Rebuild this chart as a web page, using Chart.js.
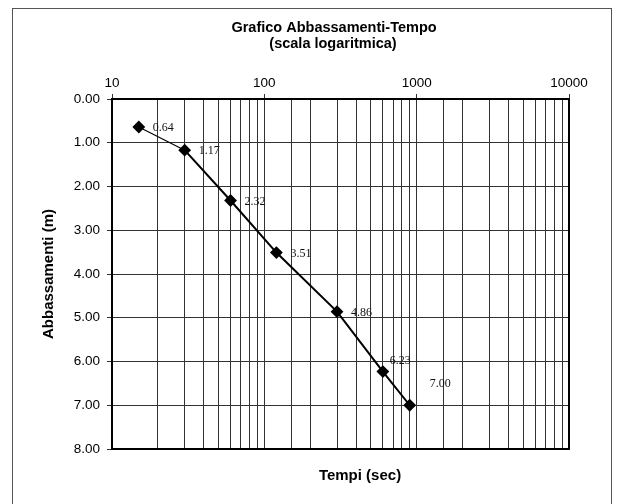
<!DOCTYPE html>
<html>
<head>
<meta charset="utf-8">
<title>Grafico Abbassamenti-Tempo</title>
<script src="https://cdn.jsdelivr.net/npm/chart.js@4/dist/chart.umd.min.js"></script>
<style>
  html, body { margin: 0; padding: 0; background: #fff; }
  #wrap { position: relative; width: 617px; height: 504px; }
</style>
</head>
<body>
<div id="wrap"><canvas id="c" width="617" height="504"></canvas></div>
<script>
// Pumping test readings: elapsed time (s) and drawdown (m)
const times = [15, 30, 60, 120, 300, 600, 900];
const drawdowns = [0.64, 1.17, 2.32, 3.51, 4.86, 6.23, 7.00];

// Axis ticks
const timeTickLabels = [10, 100, 1000, 10000];
const drawdownTicks = [0, 1, 2, 3, 4, 5, 6, 7, 8];

// Text
const titleLines = ['Grafico Abbassamenti-Tempo', '(scala logaritmica)'];
const xTitle = 'Tempi (sec)';
const yTitle = 'Abbassamenti (m)';

// Where each value label sits relative to its marker (dx, dy in px)
const labelShift = [[14, 1], [14, 1], [14, 1], [14, 1], [14, 1.5], [7, -11], [20, -21]];

const SANS = "'Liberation Sans', Arial, sans-serif";
const SERIF = "'Liberation Serif', 'Times New Roman', serif";
const GRID = '#333';

const points = times.map((t, i) => ({ x: t, y: drawdowns[i] }));

// Outer frame, chart titles and the frame around the plot area
const decorations = {
  id: 'decorations',
  beforeDraw(chart) {
    const ctx = chart.ctx;
    ctx.save();
    ctx.fillStyle = '#fff';
    ctx.fillRect(0, 0, chart.width, chart.height);
    ctx.strokeStyle = '#555';
    ctx.lineWidth = 1;
    ctx.strokeRect(12.5, 8.5, 599, 500);
    ctx.restore();
  },
  afterDraw(chart) {
    const ctx = chart.ctx;
    const a = chart.chartArea;
    ctx.save();
    ctx.strokeStyle = '#000';
    ctx.lineWidth = 2;
    ctx.strokeRect(a.left, a.top, a.right - a.left, a.bottom - a.top);

    ctx.fillStyle = '#000';
    ctx.textAlign = 'center';
    ctx.textBaseline = 'middle';
    ctx.font = 'bold 14.5px ' + SANS;
    ctx.fillText(titleLines[0], 334, 28);
    ctx.fillText(titleLines[1], 333, 44);

    ctx.font = 'bold 15px ' + SANS;
    ctx.fillText(xTitle, 360, 476);

    ctx.translate(49, 274);
    ctx.rotate(-Math.PI / 2);
    ctx.fillText(yTitle, 0, 0);
    ctx.restore();
  }
};

// Value labels next to each marker
const valueLabels = {
  id: 'valueLabels',
  afterDatasetsDraw(chart) {
    const ctx = chart.ctx;
    const meta = chart.getDatasetMeta(0);
    ctx.save();
    ctx.font = '12px ' + SERIF;
    ctx.fillStyle = '#111';
    ctx.textAlign = 'left';
    ctx.textBaseline = 'middle';
    meta.data.forEach((el, i) => {
      const v = chart.data.datasets[0].data[i].y;
      const s = labelShift[i] || [14, 0];
      ctx.fillText(v.toFixed(2), el.x + s[0], el.y + s[1]);
    });
    ctx.restore();
  }
};

const isDecade = v => Math.abs(Math.log10(v) - Math.round(Math.log10(v))) < 1e-9;

new Chart(document.getElementById('c'), {
  type: 'line',
  data: {
    datasets: [{
      data: points,
      borderColor: '#000',
      borderWidth: 2,
      segment: { borderWidth: ctx => ctx.p0DataIndex === 0 ? 1.2 : 2 },
      backgroundColor: '#000',
      pointStyle: 'rectRot',
      pointRadius: 5,
      pointHoverRadius: 5,
      pointBackgroundColor: '#000',
      pointBorderColor: '#000',
      tension: 0,
      fill: false
    }]
  },
  options: {
    responsive: false,
    animation: false,
    events: [],
    layout: { padding: { left: 0, right: 48, top: 0, bottom: 55 } },
    plugins: {
      legend: { display: false },
      title: { display: false },
      tooltip: { enabled: false }
    },
    scales: {
      x: {
        type: 'logarithmic',
        position: 'top',
        min: timeTickLabels[0],
        max: timeTickLabels[timeTickLabels.length - 1],
        afterFit(scale) { scale.height = 99; },
        border: { display: true, color: '#000', width: 2 },
        grid: {
          color: GRID,
          lineWidth: 1,
          drawTicks: true,
          tickLength: 5,
          tickColor: ctx => (ctx.tick && isDecade(ctx.tick.value)) ? GRID : 'rgba(0,0,0,0)'
        },
        ticks: {
          autoSkip: false,
          maxRotation: 0,
          padding: 3,
          color: '#000',
          font: { family: SANS, size: 13.5 },
          callback: v => timeTickLabels.includes(v) ? String(v) : ''
        }
      },
      y: {
        type: 'linear',
        reverse: true,
        min: drawdownTicks[0],
        max: drawdownTicks[drawdownTicks.length - 1],
        afterFit(scale) { scale.width = 112; },
        afterBuildTicks(scale) { scale.ticks = drawdownTicks.map(v => ({ value: v })); },
        border: { display: true, color: '#000', width: 2 },
        grid: {
          color: GRID,
          lineWidth: 1,
          drawTicks: true,
          tickLength: 5
        },
        ticks: {
          padding: 7,
          color: '#000',
          font: { family: SANS, size: 13.5 },
          callback: v => Number(v).toFixed(2)
        }
      }
    }
  },
  plugins: [decorations, valueLabels]
});
</script>
</body>
</html>
